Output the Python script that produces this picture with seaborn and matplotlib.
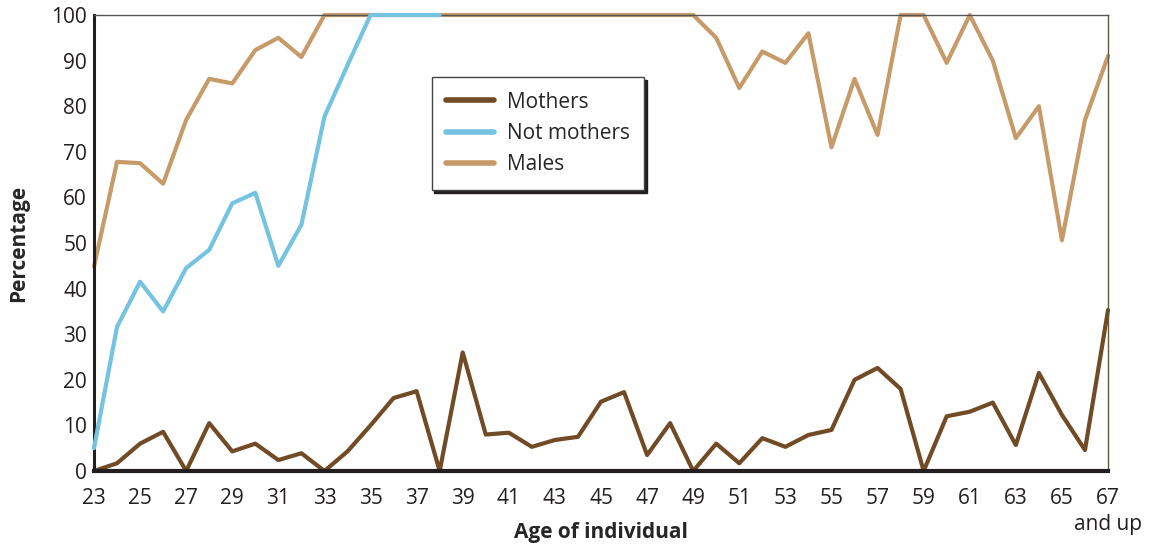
import pandas as pd
import seaborn as sns
from matplotlib import pyplot as plt
from matplotlib.ticker import MultipleLocator

# ages and series values
ages = list(range(23, 68))
mothers = [0, 1.7, 6, 8.6, 0, 10.5, 4.3, 6, 2.4, 3.9, 0, 4.3, 10, 16, 17.5, 0,
           26, 8, 8.4, 5.3, 6.8, 7.5, 15.2, 17.3, 3.5, 10.5, 0, 6, 1.7, 7.2,
           5.3, 7.9, 9, 20, 22.6, 18, 0, 12, 13, 15, 5.7, 21.5, 12.3, 4.6, 35.3]
not_mothers_ages = list(range(23, 39))
not_mothers = [5, 31.6, 41.5, 35, 44.5, 48.5, 58.7, 61, 45, 54, 77.7, 89,
               100, 100, 100, 100]
males = [44.8, 67.8, 67.5, 63, 77, 86, 85, 92.3, 95, 90.8, 100, 100, 100, 100,
         100, 100, 100, 100, 100, 100, 100, 100, 100, 100, 100, 100, 100, 95,
         84, 92, 89.5, 96, 71, 86, 73.7, 100, 100, 89.5, 100, 90, 73, 80,
         50.6, 77, 91]
groups = ['Mothers', 'Not mothers', 'Males']
colors = ['#714a26', '#74c3e1', '#c69b69']
tick_labels = [str(a) for a in range(23, 67, 2)] + ['67\nand up']

df = pd.concat([
    pd.DataFrame({'age': ages, 'pct': mothers, 'group': 'Mothers'}),
    pd.DataFrame({'age': not_mothers_ages, 'pct': not_mothers, 'group': 'Not mothers'}),
    pd.DataFrame({'age': ages, 'pct': males, 'group': 'Males'}),
])

sns.set_style('white')
plt.rcParams['font.family'] = ['Open Sans', 'DejaVu Sans']

fig = plt.figure(figsize=(11.53, 5.48), dpi=100)
ax = fig.add_axes([0.0815, 0.1405, 0.8795, 0.8321])

sns.lineplot(data=df, x='age', y='pct', hue='group', hue_order=groups,
             palette=colors, linewidth=3, ax=ax)
for line in ax.lines:
    line.set_clip_on(False)
ax.lines[1].set_zorder(3)

ax.set_xlim(23, 67)
ax.set_ylim(0, 100)
ax.set_xticks(range(23, 68, 2))
ax.set_xticklabels(tick_labels, linespacing=1.35)
ax.xaxis.set_minor_locator(MultipleLocator(1))
ax.set_yticks(range(0, 101, 10))
ax.tick_params(axis='x', which='major', direction='in', length=15, width=1.2,
               color='#222222', labelsize=15, pad=12)
ax.tick_params(axis='x', which='minor', direction='in', length=11, width=1.2,
               color='#222222')
ax.tick_params(axis='y', direction='in', length=17, width=1.2,
               color='#222222', labelsize=15, pad=5)
for lbl in ax.get_xticklabels() + ax.get_yticklabels():
    lbl.set_color('#231f20')

ax.spines['left'].set_linewidth(2.2)
ax.spines['left'].set_color('#231f20')
ax.spines['bottom'].set_linewidth(3)
ax.spines['bottom'].set_color('#231f20')
ax.spines['top'].set_linewidth(1)
ax.spines['top'].set_color('#555555')
ax.spines['right'].set_linewidth(1)
ax.spines['right'].set_color('#5c5c3c')

ax.set_xlabel('Age of individual', fontsize=15, fontweight='bold')
ax.set_ylabel('Percentage', fontsize=15, fontweight='bold')
ax.xaxis.set_label_coords(0.5, -0.112)
ax.yaxis.set_label_coords(-0.064, 0.5)

leg = ax.legend(loc='upper left', bbox_to_anchor=(0.333, 0.864), fontsize=15,
                frameon=True, fancybox=False, handlelength=2.3,
                handletextpad=0.6, borderpad=0.7, labelspacing=0.5,
                borderaxespad=0,
                shadow={'color': '#231f20', 'alpha': 1})
leg.get_frame().set_edgecolor('#444444')
leg.get_frame().set_linewidth(1)
for h in leg.get_lines():
    h.set_linewidth(4)

fig.savefig('out.png', dpi=100)
